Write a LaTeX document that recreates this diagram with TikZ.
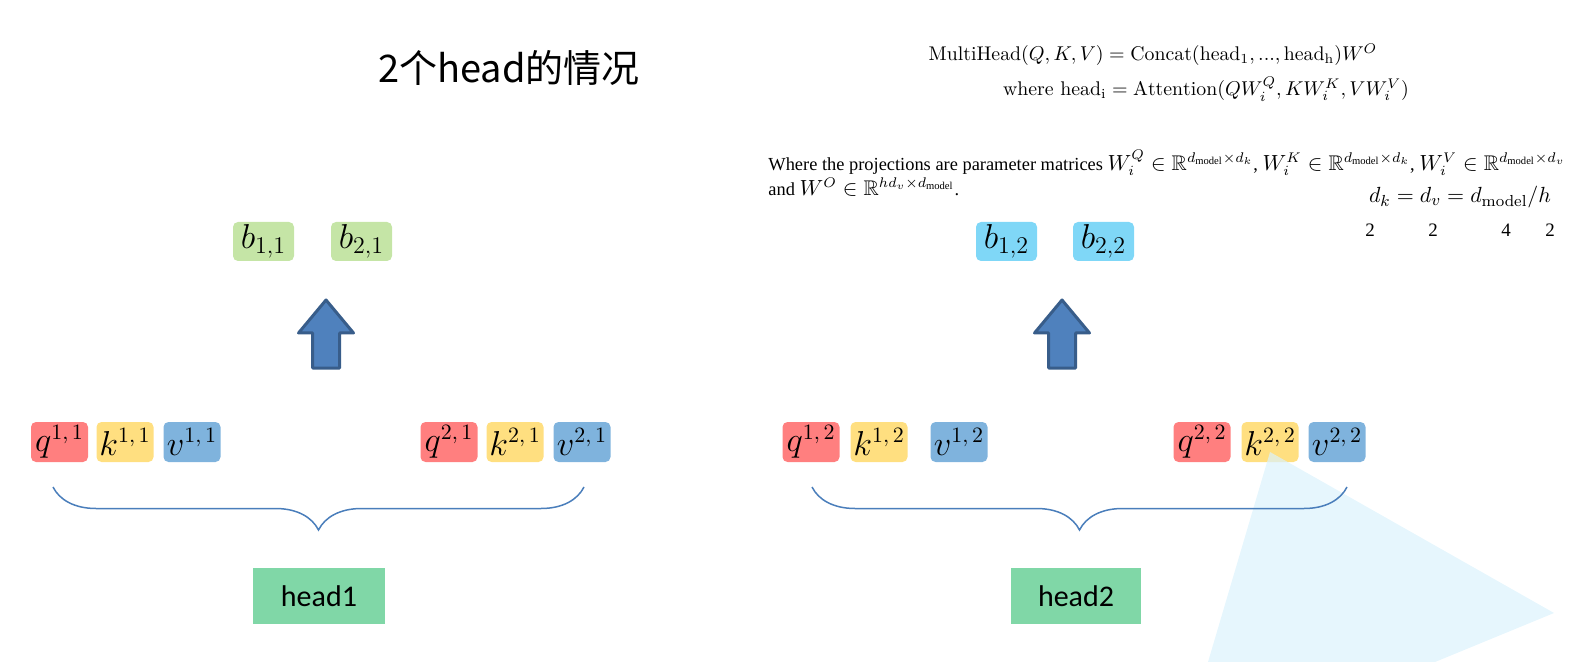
\documentclass[tikz,border=0pt]{standalone}
\usepackage{amsmath}
\usepackage{amssymb}
\usepackage{fontspec}
\newfontfamily\cjkfont{Noto Sans CJK SC}
\newfontfamily\califont{Carlito}
\newfontfamily\timesfont{Liberation Serif}
\usetikzlibrary{calc,decorations.pathreplacing}
\definecolor{qred}{RGB}{255,127,127}
\definecolor{kyellow}{RGB}{255,223,128}
\definecolor{vblue}{RGB}{127,179,221}
\definecolor{bgreen}{RGB}{197,229,166}
\definecolor{bcyan}{RGB}{127,215,247}
\definecolor{headgreen}{RGB}{128,215,167}
\definecolor{bracecol}{RGB}{74,126,187}
\definecolor{arrfill}{RGB}{79,129,189}
\definecolor{arrdraw}{RGB}{56,93,138}
\definecolor{lightsky}{RGB}{219,242,252}
\newcommand{\mathpart}[1]{{\fontsize{10.6}{12}\selectfont$#1$}}
\tikzset{
 vecbox/.style={rounded corners=2.5pt,minimum width=28.5pt,minimum height=20pt,inner sep=0pt,font=\fontsize{16}{18}\selectfont},
 outbox/.style={rounded corners=2.5pt,minimum width=30.5pt,minimum height=19.5pt,inner sep=0pt,font=\fontsize{16.5}{18}\selectfont},
 headbox/.style={fill=headgreen,minimum width=66pt,minimum height=28pt,inner sep=0pt,font=\califont\fontsize{15}{17}\selectfont},
 hbrace/.style={draw=bracecol,line width=.75pt,decorate,decoration={brace,mirror,amplitude=21.5pt}},
 blockarrow/.style={fill=arrfill,draw=arrdraw,line width=1.5pt,line join=round}
}
\begin{document}
\begin{tikzpicture}[x=.5pt,y=-.5pt]
\useasboundingbox (0,0) rectangle (1572,662);
%title
\node[font=\cjkfont\fontsize{19}{21}\selectfont] (title) at (509,68) {2个head的情况};
%formulas
\node[font=\fontsize{9.9}{12}\selectfont] (multi) at (1153,55)
 {$\mathrm{MultiHead}(Q,K,V)=\mathrm{Concat}(\mathrm{head_1},...,\mathrm{head_h})W^O$};
\node[font=\fontsize{9.9}{12}\selectfont] (where) at (1206,89)
 {$\mathrm{where}\ \mathrm{head_i}=\mathrm{Attention}(QW_i^Q,KW_i^K,VW_i^V)$};
\node[anchor=west,inner sep=0pt,font=\timesfont\fontsize{9.2}{11}\selectfont] (proj) at (768,163)
 {Where the projections are parameter matrices \mathpart{W_i^Q\in\mathbb{R}^{d_{\text{model}}\times d_k}}, \mathpart{W_i^K\in\mathbb{R}^{d_{\text{model}}\times d_k}}, \mathpart{W_i^V\in\mathbb{R}^{d_{\text{model}}\times d_v}}};
\node[anchor=west,inner sep=0pt,font=\timesfont\fontsize{9.2}{11}\selectfont] (proj2) at (768,187)
 {and \mathpart{W^O\in\mathbb{R}^{hd_v\times d_{\text{model}}}}.};
\node[font=\fontsize{11.4}{13}\selectfont] (dims) at (1460,197) {$d_k=d_v=d_{\text{model}}/h$};
\foreach \x/\n [count=\i] in {1370/2,1433/2,1506/4,1550/2}{
\node[font=\timesfont\fontsize{9.5}{11}\selectfont] (dim\i) at (\x,230) {\n};
}
%outputs
\node[outbox,fill=bgreen] (b11) at (263.5,241.5) {$b_{1,1}$};
\node[outbox,fill=bgreen] (b21) at (361.5,241.5) {$b_{2,1}$};
\node[outbox,fill=bcyan] (b12) at (1006.5,241.5) {$b_{1,2}$};
\node[outbox,fill=bcyan] (b22) at (1103.5,241.5) {$b_{2,2}$};
%up arrows
\coordinate (up1) at (326,368);
\coordinate (up2) at (1062,368);
\foreach \c in {up1,up2}{
\draw[blockarrow] (\c) ++(-13.5,0) -- ++(0,-35) -- ++(-14,0) -- ++(27.5,-33) -- ++(27.5,33) -- ++(-14,0) -- ++(0,35) -- cycle;
}
%q k v head 1
\node[vecbox,fill=qred] (q11) at (59.5,442) {$q^{1,\,1}$};
\node[vecbox,fill=kyellow] (k11) at (125,442) {$k^{1,\,1}$};
\node[vecbox,fill=vblue] (v11) at (192,442) {$v^{1,\,1}$};
\node[vecbox,fill=qred] (q21) at (449,442) {$q^{2,\,1}$};
\node[vecbox,fill=kyellow] (k21) at (515,442) {$k^{2,\,1}$};
\node[vecbox,fill=vblue] (v21) at (582,442) {$v^{2,\,1}$};
%q k v head 2
\node[vecbox,fill=qred] (q12) at (811,442) {$q^{1,\,2}$};
\node[vecbox,fill=kyellow] (k12) at (879,442) {$k^{1,\,2}$};
\node[vecbox,fill=vblue] (v12) at (959,442) {$v^{1,\,2}$};
\node[vecbox,fill=qred] (q22) at (1202,442) {$q^{2,\,2}$};
\node[vecbox,fill=kyellow] (k22) at (1270,442) {$k^{2,\,2}$};
\node[vecbox,fill=vblue] (v22) at (1337,442) {$v^{2,\,2}$};
%light shape at bottom right
\fill[lightsky,fill opacity=.7] (1270,452)--(1554,613)--(1435,662)--(1208,662)--cycle;
%braces
\coordinate (br1a) at (53,487);
\coordinate (br1b) at (584,487);
\coordinate (br2a) at (812,487);
\coordinate (br2b) at (1347,487);
\draw[hbrace] (br1a)--(br1b);
\draw[hbrace] (br2a)--(br2b);
%heads
\node[headbox] (head1) at (319,596) {head1};
\node[headbox,minimum width=65pt] (head2) at (1076,596) {head2};
\end{tikzpicture}
\end{document}
